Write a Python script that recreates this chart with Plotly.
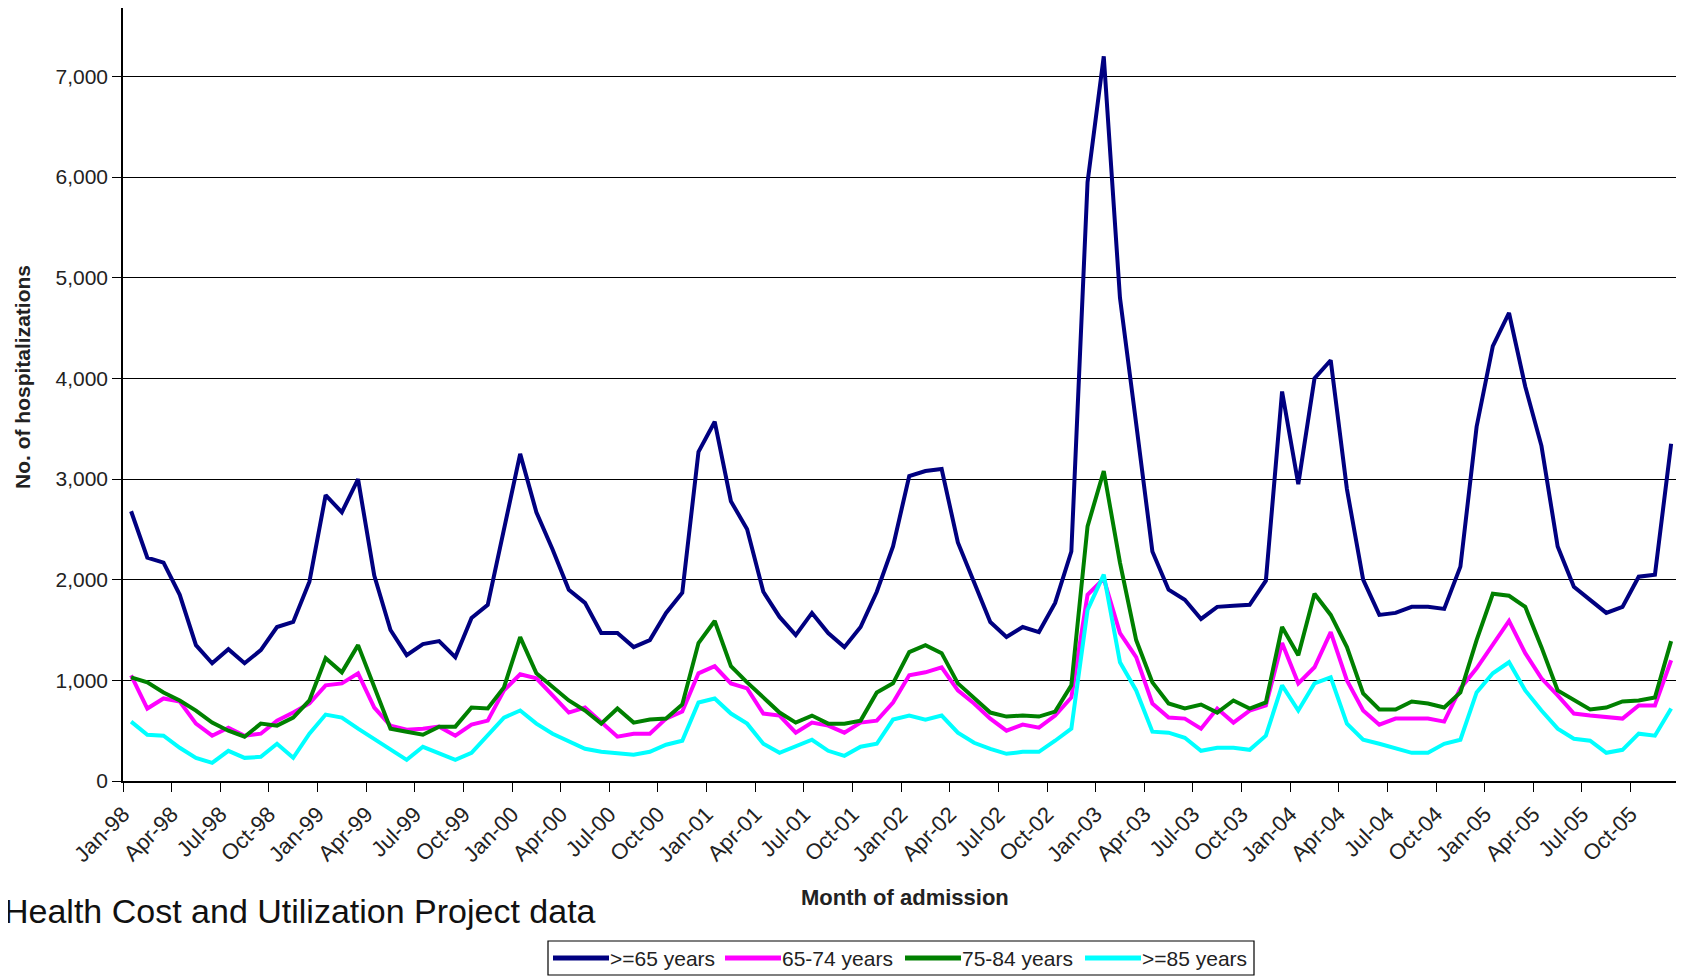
import plotly.graph_objects as go

# month labels Jan-98 ... Dec-05
month_names = ["Jan", "Feb", "Mar", "Apr", "May", "Jun",
               "Jul", "Aug", "Sep", "Oct", "Nov", "Dec"]
years = ["98", "99", "00", "01", "02", "03", "04", "05"]
months = [f"{m}-{y}" for y in years for m in month_names]

# values (no. of hospitalizations per month)
age_65_plus = [
    2680, 2220, 2170, 1850, 1350, 1170, 1310, 1170, 1300, 1530, 1580, 1980,
    2840, 2670, 3000, 2040, 1500, 1250, 1360, 1390, 1230, 1620, 1750, 2500,
    3250, 2670, 2300, 1900, 1770, 1470, 1470, 1330, 1400, 1670, 1870, 3270,
    3570, 2780, 2500, 1880, 1630, 1450, 1670, 1470, 1330, 1530, 1880, 2330,
    3030, 3080, 3100, 2370, 1970, 1580, 1430, 1530, 1480, 1770, 2280, 5950,
    7200, 4800, 3550, 2280, 1900, 1800, 1610, 1730, 1740, 1750, 1990, 3870,
    2950, 4000, 4180, 2900, 2000, 1650, 1670, 1730, 1730, 1710, 2130, 3520,
    4320, 4650, 3920, 3330, 2330, 1930, 1800, 1670, 1730, 2030, 2050, 3350,
]
age_65_74 = [
    1050, 720, 820, 790, 570, 450, 530, 450, 470, 600, 680, 770,
    950, 970, 1070, 730, 550, 510, 520, 540, 450, 560, 600, 900,
    1060, 1020, 850, 680, 730, 580, 440, 470, 470, 620, 690, 1070,
    1140, 970, 920, 670, 650, 480, 580, 550, 480, 580, 600, 780,
    1050, 1080, 1130, 900, 770, 620, 500, 560, 530, 650, 830, 1850,
    2010, 1470, 1230, 770, 630, 620, 520, 720, 580, 700, 750, 1370,
    970, 1130, 1480, 1000, 700, 560, 620, 620, 620, 590, 920, 1120,
    1360, 1590, 1270, 1020, 850, 670, 650, 630, 620, 750, 750, 1200,
]
age_75_84 = [
    1030, 980, 880, 800, 700, 580, 500, 440, 570, 550, 630, 800,
    1220, 1080, 1350, 930, 520, 490, 460, 540, 540, 730, 720, 930,
    1430, 1070, 930, 800, 700, 570, 720, 580, 610, 620, 760, 1370,
    1590, 1140, 980, 830, 680, 580, 650, 570, 570, 600, 880, 970,
    1280, 1350, 1270, 970, 820, 680, 640, 650, 640, 690, 950, 2530,
    3080, 2170, 1400, 980, 770, 720, 760, 680, 800, 720, 780, 1530,
    1250, 1860, 1650, 1330, 870, 710, 710, 790, 770, 730, 880, 1400,
    1860, 1840, 1730, 1330, 900, 800, 710, 730, 790, 800, 830, 1390,
]
age_85_plus = [
    590, 460, 450, 330, 230, 180, 300, 230, 240, 370, 230, 470,
    660, 630, 520, 420, 320, 210, 340, 270, 210, 280, 450, 630,
    700, 570, 470, 390, 320, 290, 270, 260, 290, 360, 400, 780,
    820, 670, 570, 370, 280, 340, 410, 300, 250, 340, 370, 610,
    650, 610, 650, 480, 380, 320, 270, 290, 290, 400, 520, 1700,
    2050, 1180, 900, 490, 480, 430, 300, 330, 330, 310, 450, 950,
    700, 970, 1030, 570, 410, 370, 320, 280, 280, 370, 410, 880,
    1070, 1180, 900, 700, 520, 420, 400, 280, 310, 470, 450, 720,
]

series = [
    (">=65 years", age_65_plus, "#000080"),
    ("65-74 years", age_65_74, "#FF00FF"),
    ("75-84 years", age_75_84, "#008000"),
    (">=85 years", age_85_plus, "#00FFFF"),
]

FONT = "Liberation Sans, Arial, sans-serif"
W, H = 1684, 977
BODY = 8  # the html body margin shifts the figure by 8px
# plot area wanted on screen at x 123..1676 (visible width), y 8..781
PLOT_L, PLOT_R, PLOT_T, PLOT_B = 123, 1676, 8, 781
PLOT_W = PLOT_R - PLOT_L
PLOT_H = PLOT_B - PLOT_T


def px_x(sx):
    return (sx - PLOT_L) / PLOT_W


def px_y(sy):
    return (PLOT_B - sy) / PLOT_H


fig = go.Figure()
for name, vals, color in series:
    fig.add_trace(go.Scatter(x=months, y=vals, name=name, mode="lines",
                             line=dict(color=color, width=4)))

# hand-drawn legend box (long line keys like the original)
legend_box = (548, 941, 1254, 975)
legend_keys = [(553, 609), (725, 781), (905, 961), (1085, 1141)]
legend_y = 958
shapes = [dict(type="rect", xref="paper", yref="paper",
               x0=px_x(legend_box[0]), x1=px_x(legend_box[2]),
               y0=px_y(legend_box[3]), y1=px_y(legend_box[1]),
               line=dict(color="black", width=1.2), fillcolor="white")]
annotations = []
for (name, _, color), (k0, k1) in zip(series, legend_keys):
    shapes.append(dict(type="line", xref="paper", yref="paper",
                       x0=px_x(k0), x1=px_x(k1), y0=px_y(legend_y), y1=px_y(legend_y),
                       line=dict(color=color, width=5)))
    annotations.append(dict(text=name, showarrow=False, xref="paper", yref="paper",
                            x=px_x(k1), y=px_y(legend_y), xanchor="left", yanchor="middle",
                            xshift=-1, font=dict(size=21, color="#222222")))

annotations += [
    dict(text="<b>No. of hospitalizations</b>", textangle=-90, showarrow=False,
         xref="paper", yref="paper", x=px_x(22), y=px_y(377),
         xanchor="center", yanchor="middle",
         font=dict(size=21, color="#222222")),
    dict(text="<b>Month of admission</b>", showarrow=False,
         xref="paper", yref="paper", x=px_x(905), y=px_y(897),
         xanchor="center", yanchor="middle",
         font=dict(size=22, color="#222222")),
    dict(text="Health Cost and Utilization Project data", showarrow=False,
         xref="paper", yref="paper", x=px_x(2), y=px_y(911),
         xanchor="left", yanchor="middle",
         font=dict(size=34, color="#111111")),
]

fig.update_layout(
    width=W, height=H,
    margin=dict(l=PLOT_L - BODY, r=W - (PLOT_R - BODY), t=PLOT_T - BODY,
                b=H - (PLOT_B - BODY), autoexpand=False),
    paper_bgcolor="white", plot_bgcolor="white",
    font=dict(family=FONT, color="#222222"),
    showlegend=False,
    shapes=shapes,
    annotations=annotations,
)

fig.update_xaxes(
    type="category", range=[-0.5, 95.3], dtick=3, tick0=0, tickson="boundaries",
    tickangle=-45, tickfont=dict(size=22), ticklabelshift=-8, ticklabelstandoff=10,
    showline=True, linecolor="black", linewidth=1.5,
    ticks="outside", ticklen=9, tickcolor="black",
    showgrid=False,
)
fig.update_yaxes(
    range=[0, 7680], dtick=1000, tickformat=",",
    tickfont=dict(size=21),
    showline=True, linecolor="black", linewidth=1.5,
    ticks="outside", ticklen=9, tickcolor="black",
    showgrid=True, gridcolor="black", gridwidth=1.2, zeroline=False,
)

fig.write_html("out.html")
